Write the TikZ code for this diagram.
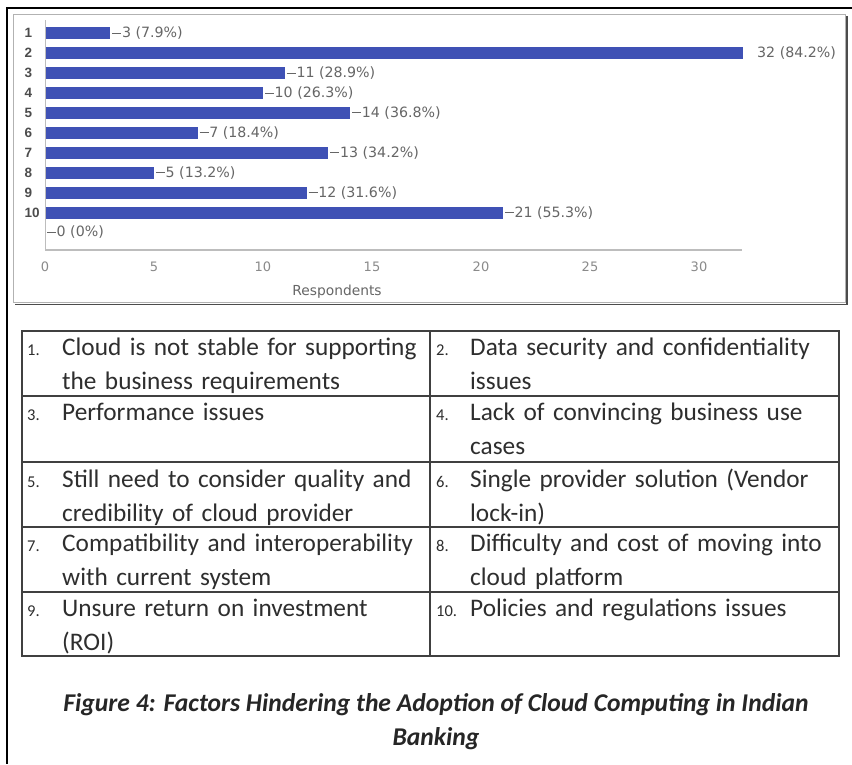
\documentclass[tikz,border=0pt]{standalone}
\usepackage{fontspec}
\setmainfont{Carlito}
\newfontfamily\chartfont{DejaVu Sans}
\newfontfamily\catfont{Liberation Sans}
\definecolor{barblue}{HTML}{3F51B5}
\definecolor{txtdark}{HTML}{2E2E2E}
\definecolor{chartgray}{HTML}{666666}
\definecolor{ticklight}{HTML}{8A8A8A}
\definecolor{gridline}{HTML}{BDBDBD}
\tikzset{
  ylbl/.style={anchor=west, inner sep=0pt, text=black!70, font=\catfont\fontsize{13.5}{15}\selectfont\bfseries},
  vallbl/.style={anchor=west, inner sep=0pt, text=chartgray, font=\chartfont\fontsize{14.2}{16}\selectfont},
  ticklbl/.style={inner sep=0pt, text=ticklight, font=\chartfont\fontsize{13}{15}\selectfont},
  axislbl/.style={inner sep=0pt, text=chartgray, font=\chartfont\fontsize{13.8}{15}\selectfont},
  leader/.style={chartgray, line width=0.7pt},
  bar/.style={fill=barblue},
  tableline/.style={draw=black!75, line width=1.4pt},
  itemnum/.style={anchor=base west, inner sep=0pt, text=txtdark, font=\fontsize{16.5}{18}\selectfont},
  itemtext/.style={anchor=base west, inner sep=0pt, text=txtdark, text width=372pt, align=left,
    font=\fontsize{25.3}{34}\selectfont},
  caption/.style={inner sep=0pt, text=black!85, align=center,
    font=\fontsize{25.6}{34}\selectfont\bfseries\itshape}
}
\begin{document}
\begin{tikzpicture}[x=1pt,y=-1pt]
\useasboundingbox (0,0) rectangle (852,764);
\fill[white] (0,0) rectangle (852,764);

% outer page frame
\draw[line width=2.2pt] (852,8) -- (7,8) -- (7,764);

% chart panel with drop shadow
\draw[black!70, line width=1.3pt] (847,16) -- (847,304.5) -- (15,304.5);
\draw[gray!60, line width=1pt] (13.5,14) rectangle (845,302.5);

% axes
\draw[gridline, line width=1pt] (45,20) -- (45,250);
\draw[gridline, line width=1.2pt] (45,250) -- (742,250);

% bars and value labels
\foreach \i/\v/\p in {1/3/7.9, 3/11/28.9, 4/10/26.3, 5/14/36.8, 6/7/18.4,
                      7/13/34.2, 8/5/13.2, 9/12/31.6, 10/21/55.3}{
  \pgfmathsetmacro{\yy}{33+(\i-1)*19.95}
  \pgfmathsetmacro{\xe}{45+\v*21.8}
  \fill[bar] (45.5,\yy-6) rectangle (\xe,\yy+6);
  \draw[leader] (\xe+2,\yy) -- (\xe+11,\yy);
  \node[vallbl] (val\i) at (\xe+11.5,\yy) {\v\ (\p\%)};
}
\fill[bar] (45.5,52.95-6) rectangle ({45+32*21.8},52.95+6);
\node[vallbl] (val2) at (757,52.95) {32 (84.2\%)};
\draw[leader] (47,232.5) -- (56,232.5);
\node[vallbl] (val0) at (56.5,232.5) {0 (0\%)};

% category labels
\foreach \i in {1,...,10}{
  \pgfmathsetmacro{\yy}{33+(\i-1)*19.95}
  \node[ylbl] (cat\i) at (24.5,\yy) {\i};
}

% axis ticks and title
\foreach \t in {0,5,...,30}{
  \node[ticklbl] (tick\t) at ({45+\t*21.8},267) {\t};
}
\node[axislbl] (xtitle) at (337,292) {Respondents};

% legend table
\draw[tableline] (22,331) rectangle (839,656);
\draw[tableline] (430,331) -- (430,656);
\foreach \r in {396,462,527,592}{
  \draw[tableline] (22,\r) -- (839,\r);
}

\node[itemnum] (n1) at (27,355) {1.};
\node[itemtext] (t1) at (62,355) {Cloud is not stable for supporting\\the business requirements};
\node[itemnum] (n2) at (436,355) {2.};
\node[itemtext] (t2) at (470,355) {Data security and confidentiality\\issues};
\node[itemnum] (n3) at (27,420.5) {3.};
\node[itemtext] (t3) at (62,420.5) {Performance issues};
\node[itemnum] (n4) at (436,420.5) {4.};
\node[itemtext] (t4) at (470,420.5) {Lack of convincing business use\\cases};
\node[itemnum] (n5) at (27,487) {5.};
\node[itemtext] (t5) at (62,487) {Still need to consider quality and\\credibility of cloud provider};
\node[itemnum] (n6) at (436,487) {6.};
\node[itemtext] (t6) at (470,487) {Single provider solution (Vendor\\lock-in)};
\node[itemnum] (n7) at (27,551.5) {7.};
\node[itemtext] (t7) at (62,551.5) {Compatibility and interoperability\\with current system};
\node[itemnum] (n8) at (436,551.5) {8.};
\node[itemtext] (t8) at (470,551.5) {Difficulty and cost of moving into\\cloud platform};
\node[itemnum] (n9) at (27,616.5) {9.};
\node[itemtext] (t9) at (62,616.5) {Unsure return on investment\\(ROI)};
\node[itemnum] (n10) at (436,616.5) {10.};
\node[itemtext] (t10) at (470,616.5) {Policies and regulations issues};

% caption
\node[caption, anchor=base] (cap1) at (436,711) {Figure 4: Factors Hindering the Adoption of Cloud Computing in Indian};
\node[caption, anchor=base] (cap2) at (436,745) {Banking};
\end{tikzpicture}
\end{document}
